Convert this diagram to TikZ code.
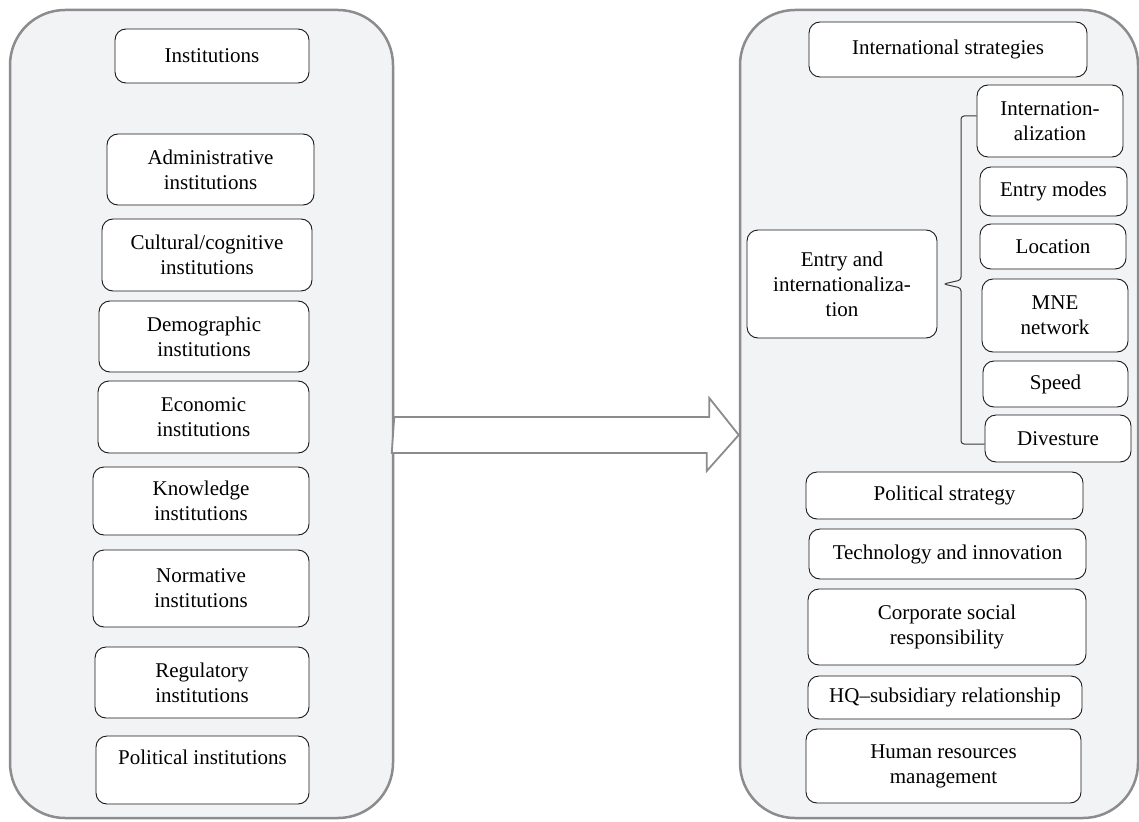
\documentclass[tikz,border=0pt]{standalone}
\usepackage{fontspec}
\setmainfont{Liberation Serif}
\definecolor{panelgray}{HTML}{F2F3F5}
\definecolor{edgegray}{HTML}{8C8C8E}
\definecolor{inkgray}{HTML}{1A1718}
\tikzset{
  panel/.style={draw=edgegray, line width=2.5pt, fill=panelgray, rounded corners=55pt, inner sep=0pt},
  itembox/.style={draw=inkgray, line width=0.9pt, fill=white, rounded corners=11pt, align=center,
    inner sep=0pt, text=black, font=\fontsize{21}{25}\selectfont},
  bigarrow/.style={draw=edgegray, line width=1.8pt, fill=white, line join=miter},
  bracket/.style={draw=inkgray!85, line width=1pt, rounded corners=3pt},
}
\begin{document}
\begin{tikzpicture}[x=1pt,y=-1pt]
\useasboundingbox[fill=white] (0,0) rectangle (1139,821);

% the two panels
\node[panel, minimum width=383pt, minimum height=808pt] (leftpanel) at (201.5,414) {};
\node[panel, minimum width=398pt, minimum height=808pt] (rightpanel) at (939,414) {};

% wide arrow between the panels
\path (leftpanel.east) ++(0,21) coordinate (arrowtail);
\path (rightpanel.west) ++(0,21) coordinate (arrowtip);
\draw[bigarrow] (arrowtail) ++(0,-18) -- ++(315,0) -- ++(0,-19) -- (arrowtip)
  -- ++(-32,36) -- ++(0,-18) -- ++(-315,0) -- cycle;

% left panel
\node[itembox, minimum width=194pt, minimum height=54pt] (inst) at (212,56) {Institutions};
\node[itembox, minimum width=207pt, minimum height=71pt] (admin) at (210.5,169.5) {Administrative\\institutions};
\node[itembox, minimum width=210pt, minimum height=72pt] (cult) at (207,255) {Cultural/cognitive\\institutions};
\node[itembox, minimum width=210pt, minimum height=71pt] (demo) at (204,336.5) {Demographic\\institutions};
\node[itembox, minimum width=211pt, minimum height=72pt] (econ) at (203.5,417) {Economic\\institutions};
\node[itembox, minimum width=216pt, minimum height=68pt] (know) at (201,501) {Knowledge\\institutions};
\node[itembox, minimum width=216pt, minimum height=77pt] (norm) at (201,588.5) {Normative\\institutions};
\node[itembox, minimum width=214pt, minimum height=71pt] (regu) at (202,682.5) {Regulatory\\institutions};
\node[itembox, minimum width=213pt, minimum height=68pt] (poli) at (202.5,770) {Political institutions\\\mbox{}};

% right panel
\node[itembox, minimum width=278pt, minimum height=55pt] (intstrat) at (948,49.5) {International strategies};
\node[itembox, minimum width=190pt, minimum height=108pt] (entry) at (842,284) {Entry and\\internationaliza-\\tion};
\node[itembox, minimum width=146pt, minimum height=72pt] (intzn) at (1050,121) {Internation-\\alization};
\node[itembox, minimum width=147pt, minimum height=49pt] (modes) at (1053.5,191.5) {Entry modes};
\node[itembox, minimum width=146pt, minimum height=45pt] (locat) at (1053,246.5) {Location};
\node[itembox, minimum width=146pt, minimum height=73pt] (mne) at (1055,315.5) {MNE\\network};
\node[itembox, minimum width=145pt, minimum height=46pt] (speed) at (1055.5,384) {Speed};
\node[itembox, minimum width=146pt, minimum height=47pt] (divest) at (1058,438.5) {Divesture};
\node[itembox, minimum width=277pt, minimum height=47pt] (polstrat) at (944.5,495.5) {Political strategy};
\node[itembox, minimum width=277pt, minimum height=50pt] (tech) at (947.5,554) {Technology and innovation};
\node[itembox, minimum width=278pt, minimum height=76pt] (csr) at (947,627) {Corporate social\\responsibility};
\node[itembox, minimum width=274pt, minimum height=43pt] (hq) at (945,697.5) {HQ--subsidiary relationship};
\node[itembox, minimum width=275pt, minimum height=74pt] (hrm) at (943.5,766) {Human resources\\management};

% brace from entry box to its sub-items
\draw[bracket] ([yshift=5pt]intzn.west) -- (961,116) -- (961,280) -- ([xshift=6pt]entry.east)
  -- (961,288) -- (961,444) -- ([yshift=-5.5pt]divest.west);
\end{tikzpicture}
\end{document}
